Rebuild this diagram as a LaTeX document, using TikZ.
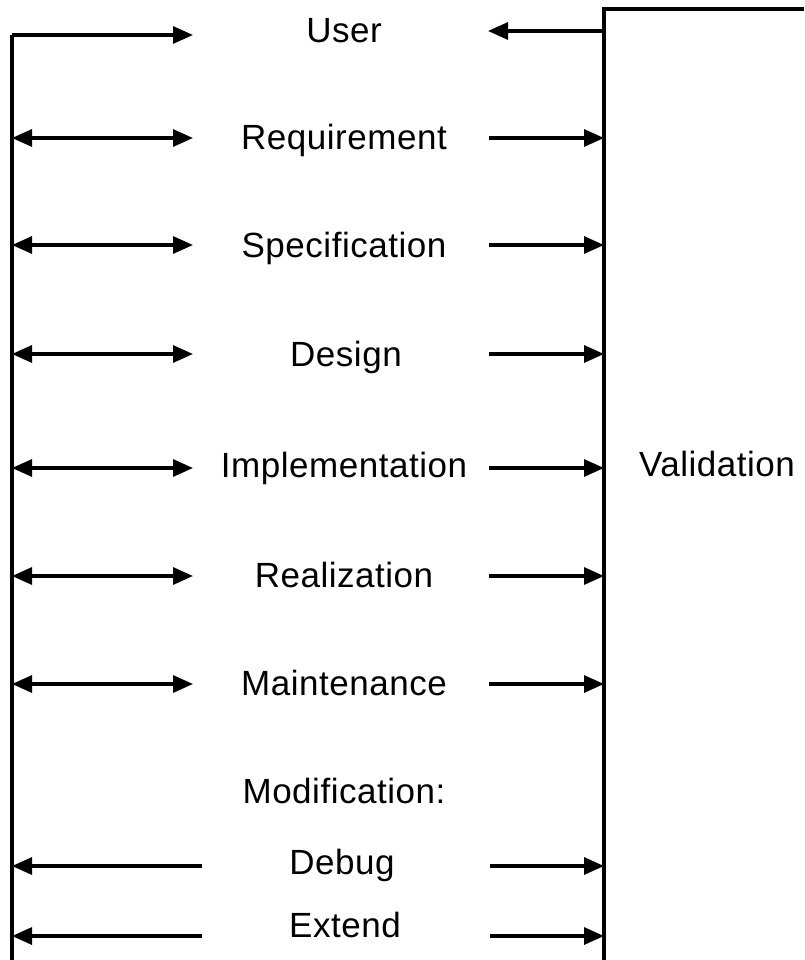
\documentclass[tikz,border=0pt]{standalone}
\usepackage{fontspec}
\setmainfont{Liberation Sans}[LetterSpace=1.5]
\usetikzlibrary{arrows.meta}
\tikzset{
  wire/.style={line width=3.2pt, line cap=butt, line join=miter},
  tip/.style={-{Triangle[length=20pt,width=17pt]}},
  twotip/.style={{Triangle[length=20pt,width=17pt]}-{Triangle[length=20pt,width=17pt]}},
  lbl/.style={font=\fontsize{35}{40}\selectfont, inner sep=0pt, anchor=base}
}
\begin{document}
\begin{tikzpicture}[x=1pt,y=-1pt]
\useasboundingbox (0,0) rectangle (804,960);
% labels
\node[lbl] (user) at (344,43) {User};
\node[lbl] (req) at (344,150) {Requirement};
\node[lbl] (spec) at (344,257) {Specification};
\node[lbl] (des) at (346,366) {Design};
\node[lbl] (impl) at (344,477) {Implementation};
\node[lbl] (real) at (344,587) {Realization};
\node[lbl] (maint) at (344,695) {Maintenance};
\node[lbl] (mod) at (344,803) {Modification:};
\node[lbl] (dbg) at (342,874) {Debug};
\node[lbl] (ext) at (345,937) {Extend};
\node[lbl] (val) at (717,476) {Validation};
% frame lines
\coordinate (ltop) at (12,35);
\coordinate (lbot) at (12,960);
\coordinate (rtop) at (604,9);
\coordinate (rbot) at (604,960);
\coordinate (corner) at (804,9);
\draw[wire] (lbot) -- (ltop);
\draw[wire] (corner) -- (rtop) -- (rbot);
% User row
\coordinate (uL) at (193,35);
\coordinate (uR0) at (604,31);
\coordinate (uR) at (488,31);
\draw[wire,tip] (ltop) -- (uL);
\draw[wire,tip] (uR0) -- (uR);
% double arrows on left, arrows to right
\foreach \n/\y in {a/138,b/245,c/354,d/468,e/576,f/684}{
  \coordinate (l\n) at (12,\y);
  \coordinate (m\n) at (193,\y);
  \coordinate (s\n) at (489,\y);
  \coordinate (r\n) at (604,\y);
  \draw[wire,twotip] (l\n) -- (m\n);
  \draw[wire,tip] (s\n) -- (r\n);
}
% Debug and Extend
\foreach \n/\y in {g/866,h/936}{
  \coordinate (l\n) at (12,\y);
  \coordinate (m\n) at (202,\y);
  \coordinate (s\n) at (490,\y);
  \coordinate (r\n) at (604,\y);
  \draw[wire,tip] (m\n) -- (l\n);
  \draw[wire,tip] (s\n) -- (r\n);
}
\end{tikzpicture}
\end{document}
